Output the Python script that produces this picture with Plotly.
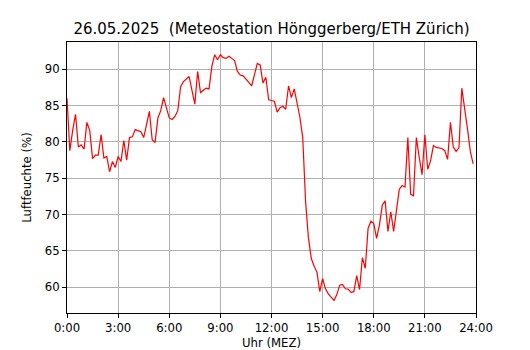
import plotly.graph_objects as go

# relative humidity (%) every 10 minutes, 0:00 .. 23:50
humidity = [
    86.0, 78.8, 81.6, 83.8, 79.3, 79.6,   # 0h
    79.0, 82.7, 81.6, 77.7, 78.2, 78.2,   # 1h
    81.0, 77.8, 78.0, 75.9, 77.3, 76.5,   # 2h
    78.0, 77.3, 80.2, 77.5, 80.6, 80.7,   # 3h
    81.7, 81.5, 81.4, 80.6, 82.5, 84.2,   # 4h
    80.3, 79.9, 83.3, 84.3, 86.1, 84.8,   # 5h
    83.3, 83.1, 83.5, 84.3, 87.6, 88.3,   # 6h
    88.7, 89.0, 87.1, 85.2, 89.7, 86.8,   # 7h
    87.1, 87.4, 87.3, 90.4, 92.0, 91.3,   # 8h
    92.0, 91.6, 91.5, 91.8, 91.5, 91.2,   # 9h
    89.7, 89.2, 89.1, 88.7, 88.2, 87.7,   # 10h
    89.4, 90.8, 90.6, 88.1, 88.9, 85.8,   # 11h
    85.7, 85.6, 84.1, 84.7, 84.9, 84.5,   # 12h
    87.7, 86.1, 87.3, 85.5, 83.4, 80.6,   # 13h
    71.8, 66.8, 64.0, 62.9, 62.1, 59.4,   # 14h
    61.2, 59.8, 59.1, 58.65, 58.2, 59.0,  # 15h
    60.3, 60.4, 59.8, 59.75, 59.3, 59.4,  # 16h
    61.6, 59.7, 64.1, 62.6, 68.1, 69.1,   # 17h
    68.8, 66.75, 68.6, 71.3, 71.9, 67.7,  # 18h
    70.4, 67.7, 70.5, 73.5, 74.0, 73.8,   # 19h
    80.6, 72.8, 72.6, 80.6, 77.9, 75.5,   # 20h
    81.0, 76.25, 77.4, 79.5, 79.25, 79.2, # 21h
    79.1, 78.8, 77.6, 82.7, 79.3, 78.7,   # 22h
    79.2, 87.4, 84.8, 81.8, 78.7, 77.0,   # 23h
]
hours = [i / 6 for i in range(len(humidity))]

x_tick_vals = [0, 3, 6, 9, 12, 15, 18, 21, 24]
x_tick_text = ["0:00", "3:00", "6:00", "9:00", "12:00", "15:00", "18:00", "21:00", "24:00"]
y_tick_vals = [60, 65, 70, 75, 80, 85, 90]

title_text = "26.05.2025  (Meteostation Hönggerberg/ETH Zürich)"

fig = go.Figure()
fig.add_trace(go.Scatter(x=hours, y=humidity, mode="lines",
                         line=dict(color="#ff0000", width=1.2),
                         showlegend=False, hoverinfo="skip"))

axis_common = dict(
    showline=True, linecolor="black", linewidth=1.1, mirror=True,
    ticks="outside", ticklen=4, tickwidth=1.1, tickcolor="black",
    showgrid=True, gridcolor="#b0b0b0", gridwidth=1.1, zeroline=False,
    automargin=False,
    tickfont=dict(family="DejaVu Sans", size=11.7, color="black"),
)

fig.update_layout(
    width=522, height=342,
    paper_bgcolor="white", plot_bgcolor="white",
    margin=dict(l=58.7, r=53.5, t=34.3, b=37.3, pad=0),
    font=dict(family="DejaVu Sans", color="black"),
    title=dict(text=title_text, x=0.5, xanchor="center", xref="paper",
               y=1 - 21 / 342, yanchor="middle",
               font=dict(family="DejaVu Sans", size=15, color="black")),
    xaxis=dict(range=[0, 24], tickmode="array", tickvals=x_tick_vals, ticktext=x_tick_text,
               title=dict(text="Uhr (MEZ)", standoff=4,
                          font=dict(family="DejaVu Sans", size=11.7)),
               **axis_common),
    yaxis=dict(range=[56.47, 93.75], tickmode="array", tickvals=y_tick_vals,
               title=dict(text="Luftfeuchte (%)", standoff=10,
                          font=dict(family="DejaVu Sans", size=11.7)),
               **axis_common),
)

fig.write_html("out.html")
